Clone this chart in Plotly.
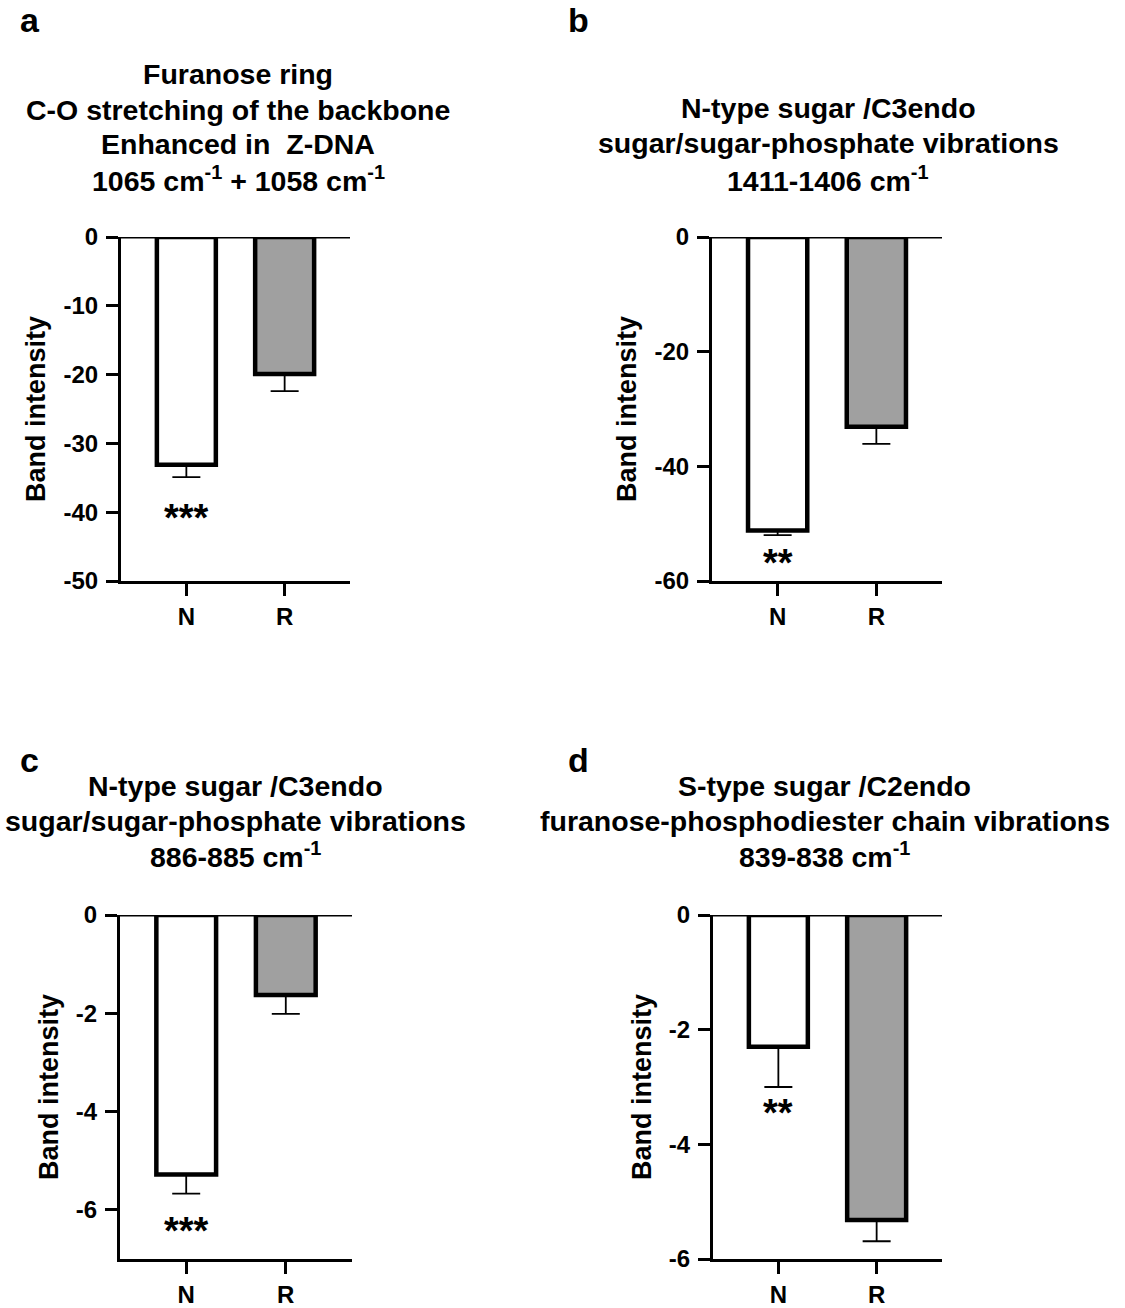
import plotly.graph_objects as go

W, H = 1125, 1308

categories = ["N", "R"]
bar_colors = ["#ffffff", "#a0a0a0"]

panel_letters = ["a", "b", "c", "d"]
panel_titles = [
    ["Furanose ring", "C-O stretching of the backbone", "Enhanced in  Z-DNA",
     "1065 cm<sup>-1</sup> + 1058 cm<sup>-1</sup>"],
    ["N-type sugar /C3endo", "sugar/sugar-phosphate vibrations", "1411-1406 cm<sup>-1</sup>"],
    ["N-type sugar /C3endo", "sugar/sugar-phosphate vibrations", "886-885 cm<sup>-1</sup>"],
    ["S-type sugar /C2endo", "furanose-phosphodiester chain vibrations", "839-838 cm<sup>-1</sup>"],
]

# bar means (N, R) and lower error (SEM) for each panel
values_a = [-33.1, -19.9]
errors_a = [1.8, 2.5]
values_b = [-51.2, -33.1]
errors_b = [0.8, 3.0]
values_c = [-5.28, -1.63]
errors_c = [0.39, 0.38]
values_d = [-2.30, -5.32]
errors_d = [0.70, 0.37]

# significance marks (label, y value) under N
sig_labels = ["***", "**", "***", "**"]
sig_y = [-40.9, -56.8, -6.42, -3.45]

y_ranges = [[-50, 0], [-60, 0], [-7, 0], [-6, 0]]
y_ticks = [[0, -10, -20, -30, -40, -50], [0, -20, -40, -60], [0, -2, -4, -6], [0, -2, -4, -6]]
y_title = "Band intensity"

values = [values_a, values_b, values_c, values_d]
errors = [errors_a, errors_b, errors_c, errors_d]

# layout in pixels (left, right, top, bottom) of each plot area
boxes = [(121, 350, 237, 581), (712, 942, 237, 581), (120, 352, 915, 1259), (713, 942, 915, 1259)]
letter_pos = [(18, 41), (566, 41), (18, 781), (566, 781)]
title_center = [238, 828, 235, 825]
title_baselines = [[84, 120, 154, 189], [118, 153, 189], [796, 831, 865], [796, 831, 865]]

FONT = "Liberation Sans, Arial, Helvetica, sans-serif"
TITLE_SIZE = 28.5


def fx(x):
    return x / W


def fy(y):
    return 1 - y / H


fig = go.Figure()
annotations = []
shapes = []
for i in range(4):
    sfx = "" if i == 0 else str(i + 1)
    xa, ya = "x" + sfx, "y" + sfx
    fig.add_trace(go.Bar(
        x=categories, y=values[i],
        marker=dict(color=bar_colors, line=dict(color="black", width=4.5)),
        width=0.6,
        error_y=dict(type="data", symmetric=False, array=[0, 0], arrayminus=errors[i],
                     color="black", thickness=1.8, width=14),
        xaxis=xa, yaxis=ya, showlegend=False,
    ))
    l, r, t, b = boxes[i]
    axis_common = dict(showline=True, linewidth=3.2, linecolor="black", ticks="outside",
                       tickwidth=3.2, tickcolor="black", showgrid=False, zeroline=False,
                       automargin=False)
    fig.layout["xaxis" + sfx] = dict(
        domain=[fx(l), fx(r)], anchor=ya, range=[-0.665, 1.665], ticklen=12,
        ticklabelstandoff=0,
        tickfont=dict(family=FONT, size=24, color="black", weight="bold"), **axis_common)
    fig.layout["yaxis" + sfx] = dict(
        domain=[fy(b), fy(t)], anchor=xa, range=y_ranges[i], tickvals=y_ticks[i],
        ticktext=[str(v) for v in y_ticks[i]], ticklen=12, ticklabelstandoff=3,
        tickfont=dict(family=FONT, size=24, color="black", weight="bold"),
        title=dict(text=y_title, font=dict(family=FONT, size=27, color="black", weight="bold"), standoff=10),
        **axis_common)
    shapes.append(dict(type="line", xref=xa + " domain", yref=ya, x0=0, x1=1, y0=0, y1=0,
                       line=dict(color="black", width=3.2), layer="above"))
    annotations.append(dict(text=sig_labels[i], x=categories[0], y=sig_y[i], xref=xa, yref=ya,
                            showarrow=False,
                            font=dict(family=FONT, size=38, color="black", weight="bold")))
    for line, base in zip(panel_titles[i], title_baselines[i]):
        annotations.append(dict(text="<b>" + line + "</b>", x=fx(title_center[i]),
                                y=fy(base - 0.35 * TITLE_SIZE),
                                xref="paper", yref="paper", xanchor="center", yanchor="middle",
                                showarrow=False, align="center",
                                font=dict(family=FONT, size=TITLE_SIZE, color="black")))
    lx, ly = letter_pos[i]
    annotations.append(dict(text="<b>" + panel_letters[i] + "</b>", x=fx(lx), y=fy(ly),
                            xref="paper", yref="paper", xanchor="left", yanchor="bottom",
                            showarrow=False, font=dict(family=FONT, size=34, color="black")))

fig.update_layout(width=W, height=H, margin=dict(l=0, r=0, t=0, b=0),
                  paper_bgcolor="white", plot_bgcolor="white",
                  annotations=annotations, shapes=shapes, bargap=0.4)
fig.write_html("out.html")
